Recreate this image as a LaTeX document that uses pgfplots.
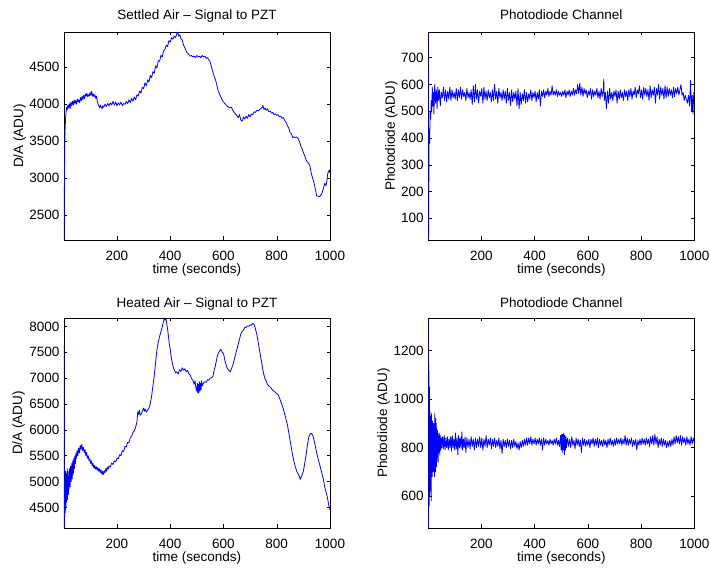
\documentclass[border=0pt]{standalone}
\usepackage{fontspec}
\setmainfont{Liberation Sans}
\usepackage{pgfplots}
\pgfplotsset{compat=1.18}
\pgfplotsset{
  mat/.style={
    scale only axis, width=266pt,
    xmin=1, xmax=1000, xtick={200,400,600,800,1000},
    tick align=inside, major tick length=3.5pt,
    xtick pos=both, ytick pos=both,
    scaled ticks=false,
    /pgf/number format/1000 sep={},
    /pgf/number format/assume math mode=true,
    axis line style={line width=0.6pt},
    every tick/.style={black, line width=0.4pt},
    tick label style={font=\fontsize{13.5}{16}\selectfont},
    label style={font=\fontsize{13.5}{16}\selectfont},
    every axis title shift=0pt,
    title style={font=\fontsize{13.5}{16}\selectfont, at={(axis description cs:0.5,1)}, anchor=base},
    xticklabel style={anchor=base, yshift=-20.5pt, inner sep=0pt},
    yticklabel style={anchor=east, xshift=-4.5pt, inner sep=0pt},
    xlabel style={at={(axis description cs:0.5,0)}, anchor=base, yshift=-33.5pt, inner sep=0pt},
    ylabel style={anchor=base, inner sep=0pt},
    xlabel={time (seconds)},
  },
  sig/.style={blue, line width=0.8pt, line join=round}
}
\begin{document}
\begin{tikzpicture}
\useasboundingbox (0pt,0pt) rectangle (710pt,569pt);
% ---------------- top left
\begin{axis}[mat, at={(64pt,329pt)}, anchor=south west, height=208pt,
  ymin=2166, ymax=4977, ytick={2500,3000,3500,4000,4500},
  title={Settled Air -- Signal to PZT}, title style={yshift=12pt},
  ylabel={D/A (ADU)}, ylabel style={at={(axis description cs:-0.154,0.5)}}]
\addplot[sig] coordinates {
(1,2166)(2,2700)(3,3100)(4,3450)(5,3650)(7,3820)(9,3900)(11,3960)(13,3920)(15,3990)(18,3950)(21,4010)(24,3940)(27,4030)(30,3980)(33,4040)(36,3990)(39,4060)(42,4010)(45,4050)(48,4000)(51,4070)(54,4030)(57,4060)(60,4020)(63,4090)(66,4050)(69,4110)(72,4060)(75,4120)(78,4080)(81,4140)(84,4110)(87,4150)(90,4100)(93,4130)(96,4110)(99,4160)(102,4120)(105,4175)(108,4110)(111,4140)(114,4100)(117,4130)(120,4080)(123,4110)(126,4040)(129,4000)(132,3980)(135,3950)(138,3990)(141,3960)(144,3940)(147,3980)(150,3960)(155,4000)(160,3970)(165,4010)(170,3980)(175,4020)(180,3990)(185,4040)(190,3990)(195,4030)(200,3980)(205,4020)(210,3990)(215,4030)(220,3980)(225,4010)(230,4000)(235,4040)(240,4010)(245,4060)(250,4020)(255,4080)(260,4040)(265,4100)(270,4060)(275,4130)(280,4110)(285,4180)(290,4150)(295,4230)(300,4210)(305,4290)(310,4250)(315,4330)(320,4300)(325,4390)(330,4360)(335,4440)(340,4420)(345,4520)(350,4490)(355,4590)(360,4580)(365,4660)(370,4640)(375,4720)(380,4740)(385,4800)(390,4780)(395,4860)(400,4840)(405,4900)(410,4880)(415,4920)(420,4900)(425,4960)(428,4975)(432,4920)(436,4940)(440,4890)(445,4870)(450,4800)(455,4760)(460,4720)(465,4690)(470,4670)(475,4650)(480,4660)(485,4640)(490,4650)(495,4630)(500,4660)(505,4640)(510,4650)(515,4630)(520,4660)(525,4640)(530,4650)(535,4620)(540,4630)(545,4600)(550,4570)(555,4500)(560,4440)(565,4380)(570,4330)(575,4260)(580,4180)(585,4140)(590,4100)(595,4060)(600,4030)(605,4010)(610,3990)(615,3970)(620,3960)(625,3950)(630,3960)(635,3920)(640,3890)(645,3870)(650,3850)(655,3820)(660,3860)(665,3790)(670,3770)(675,3830)(680,3800)(685,3840)(690,3810)(695,3860)(700,3830)(705,3870)(710,3860)(715,3900)(720,3890)(725,3920)(730,3910)(735,3930)(740,3940)(745,3960)(748,3985)(752,3930)(756,3950)(760,3920)(765,3940)(770,3900)(775,3910)(780,3880)(785,3890)(790,3860)(795,3870)(800,3850)(805,3860)(810,3830)(815,3840)(820,3810)(825,3820)(830,3780)(835,3760)(840,3710)(845,3680)(850,3620)(855,3600)(860,3550)(865,3560)(870,3550)(875,3560)(880,3540)(885,3500)(890,3440)(895,3400)(900,3350)(905,3300)(910,3250)(915,3220)(920,3200)(925,3160)(930,3060)(935,3000)(940,2940)(945,2850)(950,2760)(955,2760)(960,2750)(965,2770)(970,2800)(975,2860)(980,2930)(985,2900)(988,2960)(991,3050)(994,3100)(997,3080)(1000,3120)
};
\end{axis}
% ---------------- top right
\begin{axis}[mat, at={(428.3pt,329pt)}, anchor=south west, height=208pt,
  ymin=19, ymax=796, ytick={100,200,300,400,500,600,700},
  title={Photodiode Channel}, title style={yshift=12pt},
  ylabel={Photodiode (ADU)}, ylabel style={at={(axis description cs:-0.126,0.5)}}]
\addplot[sig] coordinates {
(1,796)(2,19)(4,430)(6,380)(8,500)(10,470)(12,540)(14,500)(16,590)(18,520)(20,570)(22,490)(25,600)(28,530)(31,580)(34,510)(37,590)(40,540)(43,580)(46,520)(50,570)(54,550)(58,590)(62,540)(66,580)(70,535)(74,575)(78,545)(82,590)(86,540)(90,580)(94,550)(98,570)(102,545)(106,585)(110,540)(114,580)(118,550)(122,590)(126,545)(130,580)(134,555)(138,570)(142,540)(146,585)(150,550)(154,570)(158,545)(162,580)(166,525)(170,595)(174,535)(178,600)(182,545)(186,580)(190,530)(194,575)(198,555)(202,585)(206,530)(210,590)(214,545)(218,575)(222,540)(226,580)(230,550)(234,570)(238,535)(242,580)(246,540)(250,600)(254,545)(258,575)(262,530)(266,585)(270,550)(274,570)(278,540)(282,580)(286,545)(290,575)(294,530)(298,585)(302,540)(306,570)(310,520)(314,580)(318,535)(322,570)(326,545)(330,575)(334,520)(338,585)(342,510)(346,570)(350,525)(354,565)(358,540)(362,580)(366,530)(370,570)(374,535)(378,565)(382,545)(386,580)(390,540)(394,570)(398,550)(402,575)(406,535)(410,570)(414,545)(418,580)(422,520)(426,575)(430,555)(434,580)(438,550)(442,575)(446,560)(450,585)(454,555)(458,575)(462,560)(466,595)(470,560)(474,575)(478,560)(482,580)(486,555)(490,575)(494,560)(498,570)(502,555)(506,575)(510,560)(514,580)(518,550)(522,575)(526,560)(530,580)(534,555)(538,575)(542,560)(546,585)(550,560)(554,580)(558,565)(562,600)(566,565)(570,605)(574,560)(578,590)(582,555)(586,585)(590,565)(594,580)(598,550)(602,575)(606,560)(610,585)(614,545)(618,580)(622,555)(626,575)(630,560)(634,585)(638,550)(642,575)(646,545)(650,585)(654,555)(658,580)(660,620)(662,540)(666,570)(670,510)(674,575)(678,530)(682,585)(686,545)(690,570)(694,540)(698,575)(702,555)(706,580)(710,530)(714,575)(718,545)(722,580)(726,550)(730,570)(734,540)(738,580)(742,555)(746,575)(750,540)(754,580)(758,555)(762,585)(766,545)(770,575)(774,560)(778,590)(782,550)(786,580)(790,565)(794,595)(798,550)(802,580)(806,545)(810,590)(814,560)(818,585)(822,555)(826,580)(830,540)(834,595)(838,550)(842,580)(846,560)(850,590)(854,530)(858,585)(862,560)(866,600)(870,545)(874,590)(878,560)(882,585)(886,545)(890,595)(894,550)(898,590)(902,555)(906,585)(910,560)(914,580)(918,550)(922,590)(926,555)(930,585)(934,565)(938,590)(942,560)(946,580)(950,600)(954,560)(958,570)(962,540)(966,560)(970,545)(974,530)(978,560)(982,520)(986,615)(988,540)(990,500)(992,560)(995,490)(998,570)(1000,560)
};
\end{axis}
% ---------------- bottom left
\begin{axis}[mat, at={(64pt,41pt)}, anchor=south west, height=210pt,
  ymin=4102, ymax=8162, ytick={4500,5000,5500,6000,6500,7000,7500,8000},
  title={Heated Air -- Signal to PZT}, title style={yshift=10pt},
  ylabel={D/A (ADU)}, ylabel style={at={(axis description cs:-0.157,0.5)}}]
\addplot[sig] coordinates {
(1,7630)(2,4102)(3,4700)(4,4300)(5,5000)(6,4400)(7,5200)(8,4500)(9,4900)(10,4600)(11,5150)(12,4700)(13,5250)(14,4650)(15,5000)(16,4800)(17,5200)(18,4750)(19,5100)(20,4850)(22,5250)(24,4900)(26,5300)(28,5000)(30,5350)(32,5050)(34,5400)(36,5150)(38,5450)(40,5250)(42,5500)(44,5350)(46,5550)(48,5450)(50,5600)(53,5500)(56,5650)(59,5550)(62,5700)(65,5620)(68,5720)(71,5600)(74,5660)(77,5560)(80,5620)(83,5500)(86,5560)(89,5450)(92,5500)(95,5400)(98,5440)(101,5350)(104,5400)(107,5300)(110,5350)(113,5260)(116,5310)(119,5240)(122,5290)(125,5220)(128,5270)(131,5200)(134,5250)(137,5170)(140,5230)(143,5140)(146,5200)(149,5130)(152,5210)(155,5170)(158,5250)(161,5200)(164,5280)(167,5240)(170,5300)(175,5280)(180,5360)(185,5330)(190,5400)(195,5380)(200,5450)(205,5440)(210,5520)(215,5500)(220,5600)(225,5580)(230,5680)(235,5670)(240,5760)(245,5750)(250,5850)(255,5870)(260,5950)(265,5980)(270,6050)(275,6150)(278,6350)(281,6300)(284,6380)(287,6280)(290,6300)(295,6350)(300,6420)(303,6360)(306,6400)(310,6340)(315,6380)(320,6420)(325,6500)(330,6650)(335,6850)(340,7050)(345,7300)(350,7550)(355,7700)(360,7800)(365,7900)(370,7990)(374,8080)(378,8162)(381,8120)(384,8140)(387,8050)(390,7950)(393,7820)(396,7680)(400,7550)(404,7400)(408,7280)(412,7200)(416,7150)(420,7100)(425,7120)(430,7080)(435,7160)(440,7130)(445,7200)(450,7150)(455,7180)(460,7120)(465,7150)(470,7080)(475,7060)(480,6990)(485,6960)(490,6880)(493,6950)(496,6820)(499,6750)(502,6900)(504,6700)(506,6880)(508,6720)(510,6930)(512,6750)(514,6900)(516,6780)(518,6950)(520,6850)(525,6900)(530,6930)(535,6920)(540,6970)(545,6960)(550,7000)(555,7010)(560,7030)(565,7150)(570,7250)(575,7380)(580,7480)(585,7520)(590,7560)(595,7500)(600,7480)(605,7350)(610,7250)(615,7180)(620,7150)(625,7120)(630,7180)(635,7250)(640,7350)(645,7450)(650,7550)(655,7650)(660,7750)(665,7850)(670,7900)(675,7930)(680,7980)(685,7980)(690,8010)(695,8000)(700,8030)(705,8020)(710,8060)(715,8040)(720,7950)(725,7850)(730,7700)(735,7550)(740,7400)(745,7250)(750,7100)(755,7000)(760,6950)(765,6880)(770,6850)(775,6830)(780,6800)(785,6760)(790,6750)(795,6720)(800,6700)(805,6680)(810,6620)(815,6550)(820,6480)(825,6400)(830,6300)(835,6200)(840,6100)(845,5950)(850,5800)(855,5650)(860,5500)(865,5380)(870,5280)(875,5200)(880,5150)(885,5100)(888,5040)(891,5080)(895,5120)(900,5200)(905,5350)(910,5500)(915,5700)(920,5850)(925,5920)(930,5930)(935,5900)(940,5800)(945,5680)(950,5550)(955,5450)(960,5350)(965,5250)(970,5150)(975,5050)(980,4900)(985,4800)(990,4700)(995,4550)(1000,4450)
};
\end{axis}
% ---------------- bottom right
\begin{axis}[mat, at={(428.3pt,41pt)}, anchor=south west, height=210pt,
  ymin=469, ymax=1334, ytick={600,800,1000,1200},
  title={Photodiode Channel}, title style={yshift=10pt},
  ylabel={Photodiode (ADU)}, ylabel style={at={(axis description cs:-0.155,0.5)}}]
\addplot[sig] coordinates {
(1,1334)(2,469)(3,1150)(4,560)(5,1050)(6,600)(7,950)(8,620)(9,930)(10,650)(11,900)(12,580)(13,940)(14,700)(15,880)(16,680)(17,910)(18,720)(19,870)(20,700)(21,900)(22,720)(23,880)(24,680)(25,940)(26,740)(27,870)(28,700)(29,920)(30,730)(31,900)(32,720)(33,880)(34,760)(35,870)(36,770)(37,860)(38,740)(39,850)(40,780)(42,860)(44,770)(46,850)(48,790)(50,840)(52,800)(55,845)(58,795)(61,850)(64,790)(67,840)(70,800)(73,845)(76,790)(79,835)(82,800)(85,845)(88,785)(91,850)(94,800)(97,835)(100,790)(103,860)(106,795)(109,840)(112,770)(115,850)(118,800)(121,840)(124,795)(127,865)(130,790)(133,835)(136,800)(139,845)(142,780)(146,840)(150,800)(154,835)(158,795)(162,845)(166,805)(170,835)(174,790)(178,840)(182,800)(186,835)(190,805)(194,845)(198,800)(202,840)(206,790)(210,835)(214,805)(218,850)(222,800)(226,835)(230,810)(234,840)(238,795)(242,835)(246,805)(250,840)(254,800)(258,830)(262,805)(266,840)(270,795)(274,830)(278,775)(282,835)(286,805)(290,830)(294,800)(298,835)(302,805)(306,830)(310,795)(314,830)(318,800)(322,835)(326,805)(330,825)(334,795)(338,820)(342,790)(346,825)(350,800)(354,830)(358,805)(362,835)(366,810)(370,840)(374,810)(378,840)(382,815)(386,845)(390,810)(394,835)(398,815)(402,840)(406,810)(410,835)(414,815)(418,840)(422,810)(426,835)(430,790)(434,840)(438,810)(442,835)(446,815)(450,830)(454,810)(458,835)(462,815)(466,830)(470,810)(474,835)(478,815)(482,840)(486,810)(490,830)(494,805)(498,850)(500,790)(502,855)(504,780)(506,855)(508,790)(510,860)(512,770)(514,850)(516,790)(518,845)(520,800)(524,840)(528,805)(532,835)(536,800)(540,845)(544,810)(548,830)(552,795)(556,840)(560,810)(564,835)(568,805)(572,830)(576,780)(580,840)(584,810)(588,835)(592,805)(596,830)(600,810)(604,835)(608,800)(612,835)(616,815)(620,840)(624,805)(628,835)(632,810)(636,840)(640,800)(644,835)(648,810)(652,830)(656,805)(660,835)(664,810)(668,830)(672,800)(676,835)(680,810)(684,840)(688,810)(692,830)(696,805)(700,835)(704,810)(708,840)(712,815)(716,835)(720,815)(724,840)(728,810)(732,835)(736,815)(740,850)(744,810)(748,840)(752,810)(756,835)(760,815)(764,840)(768,805)(772,830)(776,810)(780,835)(784,790)(788,830)(792,810)(796,835)(800,810)(804,840)(808,815)(812,835)(816,810)(820,840)(824,815)(828,835)(832,805)(836,845)(840,815)(844,850)(848,810)(852,855)(856,815)(860,845)(864,800)(868,835)(872,810)(876,840)(880,805)(884,835)(888,810)(892,830)(896,800)(900,825)(904,805)(908,830)(912,805)(916,835)(920,810)(924,845)(928,815)(932,850)(936,820)(940,845)(944,815)(948,850)(952,810)(956,845)(960,820)(964,840)(968,810)(972,845)(976,815)(980,835)(984,810)(988,845)(992,815)(996,840)(1000,820)
};
\end{axis}
\end{tikzpicture}
\end{document}
